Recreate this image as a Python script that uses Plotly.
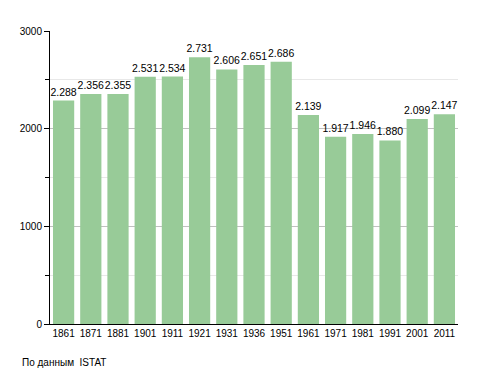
import plotly.graph_objects as go

years = ["1861", "1871", "1881", "1901", "1911", "1921", "1931", "1936", "1951",
         "1961", "1971", "1981", "1991", "2001", "2011"]
population = [2288, 2356, 2355, 2531, 2534, 2731, 2606, 2651, 2686,
              2139, 1917, 1946, 1880, 2099, 2147]
labels = [f"{v:,}".replace(",", ".") for v in population]

# page body has an 8px margin, so the figure starts at (8, 8)
fig = go.Figure(go.Bar(
    x=years, y=population, text=labels, textposition="outside",
    textfont=dict(size=10.5, color="black"), constraintext="none",
    marker=dict(color="#98cb98", line=dict(width=0)),
    cliponaxis=False,
))
fig.update_layout(
    width=480, height=365,
    margin=dict(l=42, r=30, t=23, b=49),
    plot_bgcolor="white", paper_bgcolor="white",
    font=dict(family="Liberation Sans, Arial, sans-serif", size=10, color="black"),
    bargap=0.22, showlegend=False,
    annotations=[dict(text="По данным  ISTAT", xref="paper", yref="paper",
                      x=-30/408, y=-38/293, xanchor="left", yanchor="middle",
                      showarrow=False, font=dict(size=10))],
)
fig.update_xaxes(type="category", showline=True, linecolor="black", linewidth=1,
                 ticks="", showgrid=False, tickfont=dict(size=10))
fig.update_yaxes(range=[0, 3000], dtick=1000, showline=True, linecolor="black",
                 linewidth=1, ticks="outside", ticklen=5, tickcolor="black",
                 showgrid=True, gridcolor="#c0c0c0", zeroline=False,
                 tickfont=dict(size=10),
                 minor=dict(dtick=500, ticks="outside", ticklen=4, tickcolor="black",
                            showgrid=True, gridcolor="#e8e8e8"))
fig.write_html("out.html")
